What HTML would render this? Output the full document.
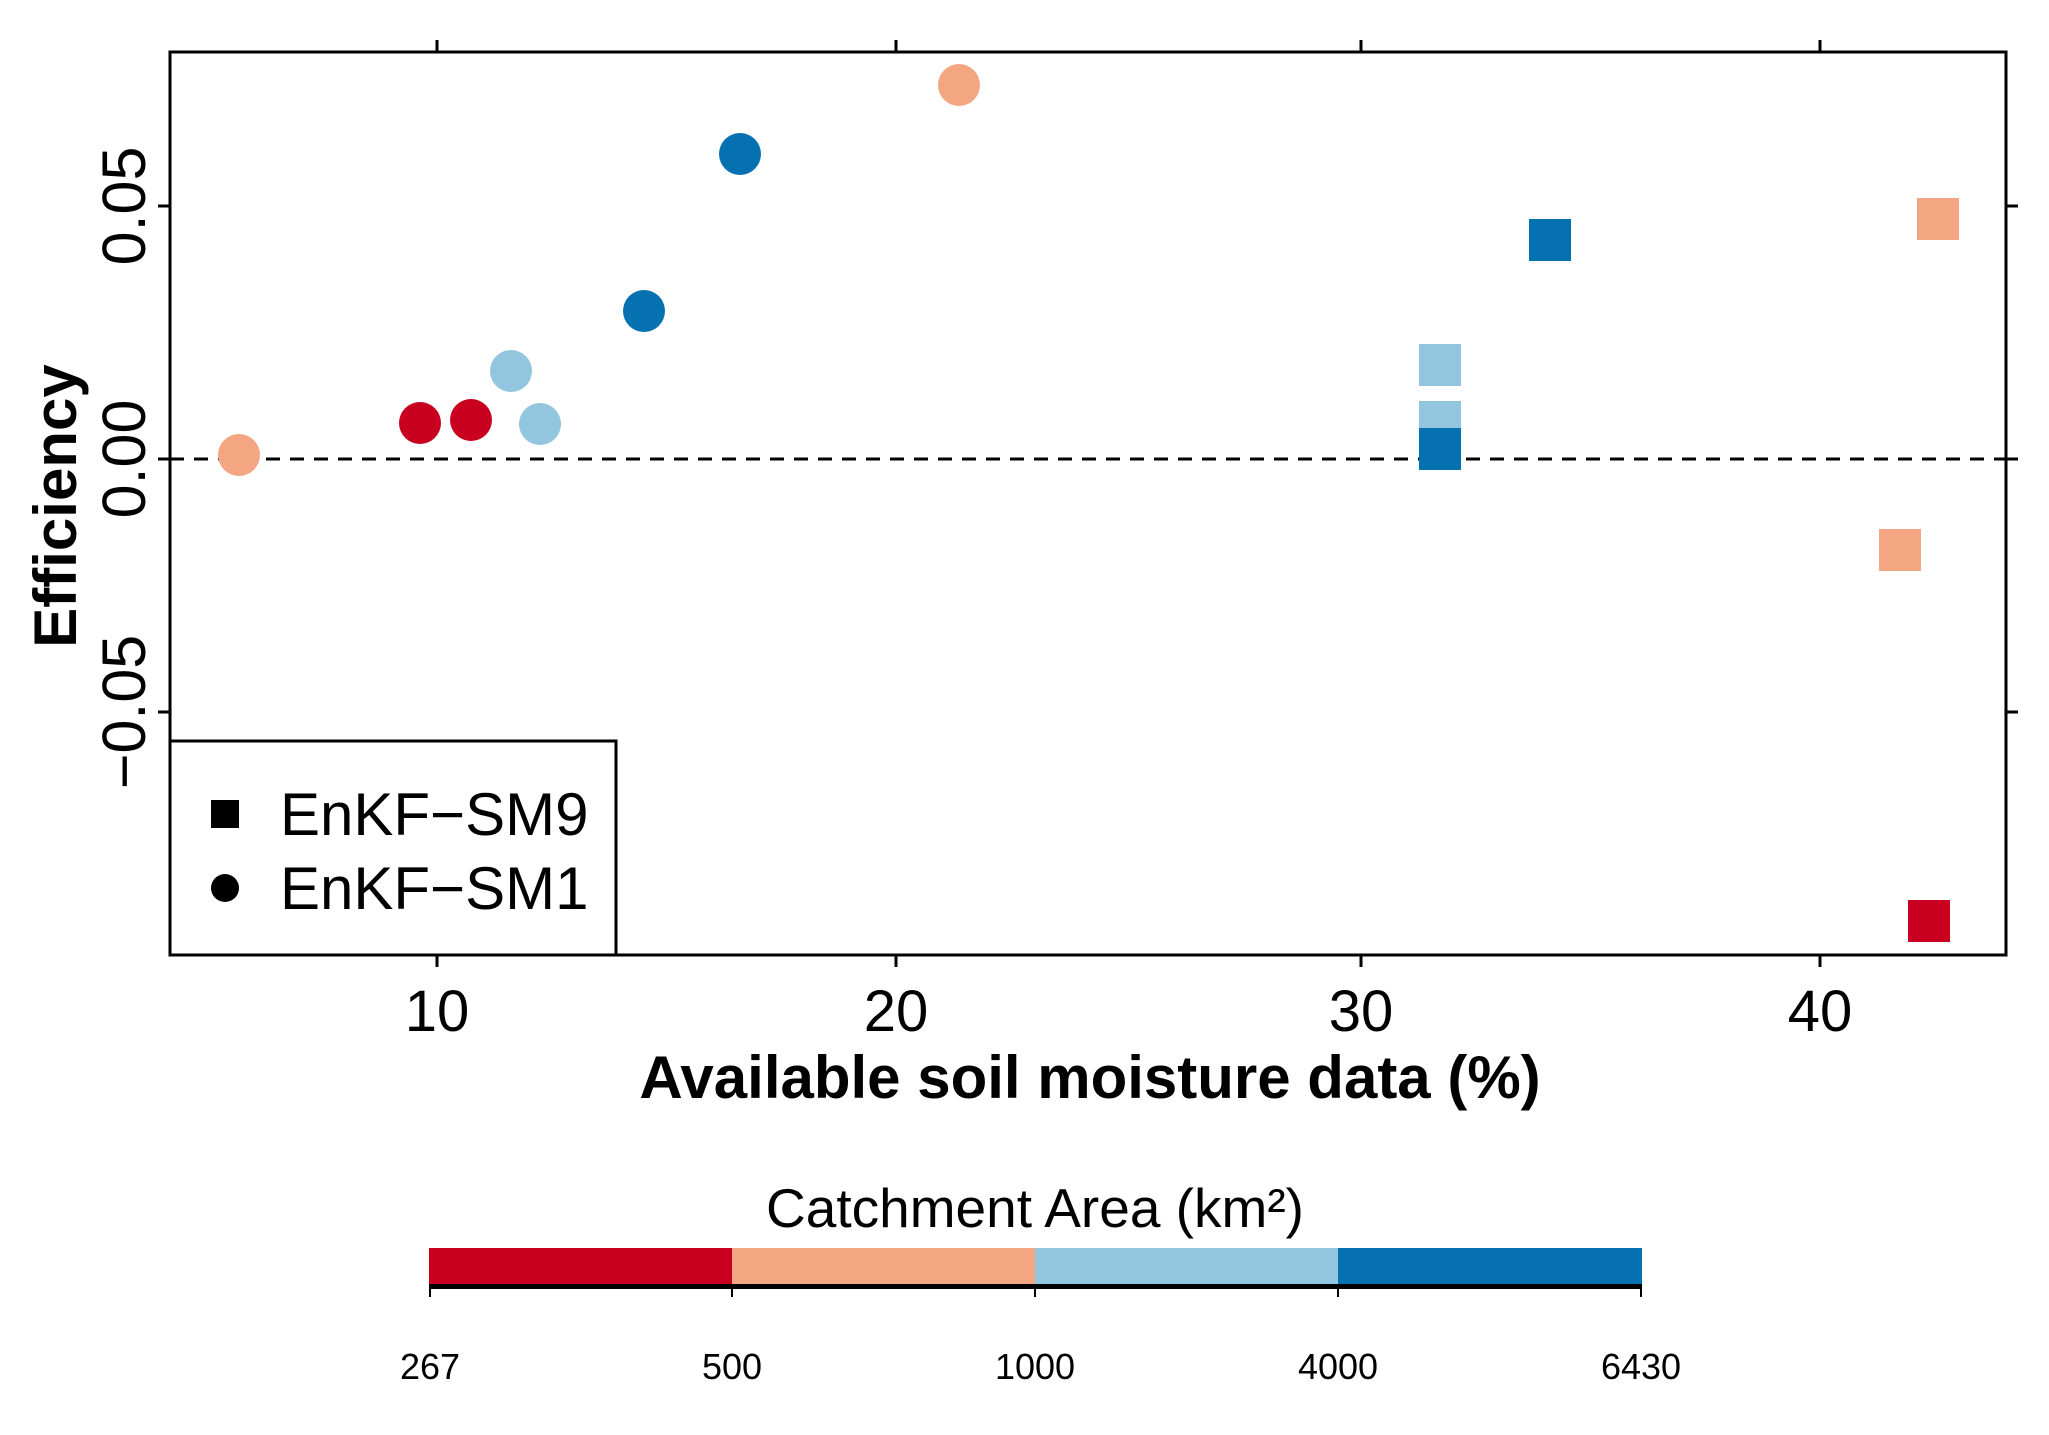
<!DOCTYPE html>
<html><head><meta charset="utf-8"><style>html,body{margin:0;padding:0;background:#fff}svg{display:block}</style></head>
<body>
<svg width="2049" height="1435" viewBox="0 0 2049 1435" xmlns="http://www.w3.org/2000/svg" font-family="Liberation Sans, Arial, sans-serif">
<rect width="2049" height="1435" fill="#fff"/>
<line x1="170" y1="459" x2="2006" y2="459" stroke="#000" stroke-width="3" stroke-dasharray="14,10"/>
<g>
<circle cx="239" cy="455" r="21" fill="#F4A582"/>
<circle cx="420" cy="423" r="21" fill="#CA0020"/>
<circle cx="471" cy="420" r="21" fill="#CA0020"/>
<circle cx="511" cy="371" r="21" fill="#92C5DE"/>
<circle cx="540" cy="424" r="21" fill="#92C5DE"/>
<circle cx="644" cy="311" r="21" fill="#0571B0"/>
<circle cx="740" cy="154" r="21" fill="#0571B0"/>
<circle cx="959" cy="85" r="21" fill="#F4A582"/>
</g>
<g>
<rect x="1529" y="219" width="42" height="42" fill="#0571B0"/>
<rect x="1917" y="198" width="42" height="42" fill="#F4A582"/>
<rect x="1419" y="344" width="42" height="42" fill="#92C5DE"/>
<rect x="1419" y="401" width="42" height="42" fill="#92C5DE"/>
<rect x="1419" y="428" width="42" height="42" fill="#0571B0"/>
<rect x="1879" y="529" width="42" height="42" fill="#F4A582"/>
<rect x="1908" y="900" width="42" height="42" fill="#CA0020"/>
</g>
<rect x="170" y="52" width="1836" height="903" fill="none" stroke="#000" stroke-width="3"/>
<g stroke="#000" stroke-width="3">
<line x1="437" y1="955" x2="437" y2="967"/><line x1="896" y1="955" x2="896" y2="967"/><line x1="1361" y1="955" x2="1361" y2="967"/><line x1="1820" y1="955" x2="1820" y2="967"/>
<line x1="437" y1="52" x2="437" y2="40"/><line x1="896" y1="52" x2="896" y2="40"/><line x1="1361" y1="52" x2="1361" y2="40"/><line x1="1820" y1="52" x2="1820" y2="40"/>
<line x1="170" y1="206" x2="158" y2="206"/><line x1="170" y1="459" x2="158" y2="459"/><line x1="170" y1="712" x2="158" y2="712"/>
<line x1="2006" y1="206" x2="2018" y2="206"/><line x1="2006" y1="459" x2="2018" y2="459"/><line x1="2006" y1="712" x2="2018" y2="712"/>
</g>
<g font-size="58" text-anchor="middle" fill="#000">
<text x="437" y="1031">10</text><text x="896" y="1031">20</text><text x="1361" y="1031">30</text><text x="1820" y="1031">40</text>
</g>
<g font-size="61" text-anchor="middle" fill="#000">
<text transform="translate(145,206) rotate(-90)">0.05</text>
<text transform="translate(145,459) rotate(-90)">0.00</text>
<text transform="translate(145,712) rotate(-90)">−0.05</text>
</g>
<text transform="translate(76,506) rotate(-90)" font-size="60" font-weight="bold" text-anchor="middle">Efficiency</text>
<text x="1090" y="1098" font-size="60" font-weight="bold" text-anchor="middle">Available soil moisture data (%)</text>
<rect x="170" y="741" width="446" height="214" fill="#fff" stroke="#000" stroke-width="3"/>
<rect x="211" y="800" width="28" height="28" fill="#000"/>
<circle cx="225" cy="888" r="14" fill="#000"/>
<text x="280" y="835" font-size="60">EnKF−SM9</text>
<text x="280" y="909" font-size="60">EnKF−SM1</text>
<text x="1035" y="1227" font-size="55" text-anchor="middle">Catchment Area (km²)</text>
<rect x="429" y="1248" width="303" height="38" fill="#CA0020"/>
<rect x="732" y="1248" width="303" height="38" fill="#F4A582"/>
<rect x="1035" y="1248" width="303" height="38" fill="#92C5DE"/>
<rect x="1338" y="1248" width="304" height="38" fill="#0571B0"/>
<rect x="429" y="1284" width="1213" height="5" fill="#000"/>
<g stroke="#000" stroke-width="2">
<line x1="430" y1="1285" x2="430" y2="1297"/><line x1="732" y1="1285" x2="732" y2="1297"/><line x1="1035" y1="1285" x2="1035" y2="1297"/><line x1="1338" y1="1285" x2="1338" y2="1297"/><line x1="1641" y1="1285" x2="1641" y2="1297"/>
</g>
<g font-size="36" text-anchor="middle">
<text x="430" y="1379">267</text><text x="732" y="1379">500</text><text x="1035" y="1379">1000</text><text x="1338" y="1379">4000</text><text x="1641" y="1379">6430</text>
</g>
</svg>
</body></html>
